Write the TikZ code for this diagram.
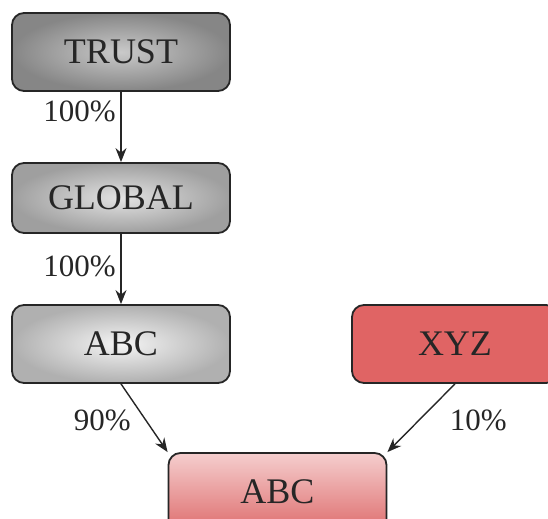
\documentclass[tikz,border=0pt]{standalone}
\usepackage{fontspec}
\setmainfont{Liberation Serif}
\usepackage{tikz}
\usetikzlibrary{arrows.meta}
\definecolor{xyzred}{RGB}{224,100,100}
\definecolor{pinktop}{RGB}{245,206,206}
\definecolor{pinkbot}{RGB}{222,110,110}
\tikzset{
	block/.style={draw=black!85, line width=0.9pt, rounded corners=6pt, minimum width=109pt,
		minimum height=39pt, text=black!85, font=\fontsize{18}{20}\selectfont},
	pct/.style={text=black!85, font=\fontsize{15.5}{17}\selectfont},
	link/.style={-{Stealth[length=7pt,width=5.5pt]}, line width=0.7pt, black!85}
}
\begin{document}
\begin{tikzpicture}[x=0.5pt, y=0.5pt]
			\useasboundingbox (0,0) rectangle (548,519);
			\clip (0,0) rectangle (548,519);
			\node[block, inner color=gray!42, outer color=gray!95] (trust) at (121,467) {TRUST};
			\node[block, minimum height=35pt, inner color=gray!22, outer color=gray!75] (global) at (121,321) {GLOBAL};
			\node[block, inner color=gray!8, outer color=gray!62] (abc) at (121,175) {ABC};
			\node[block, minimum width=103pt, fill=xyzred] (xyz) at (455,175) {XYZ};
			\node[block, top color=pinktop, bottom color=pinkbot] (res) at (277.5,27) {ABC};
			\path[link]
			(trust) edge node [pct, pos=0.28, left=-1pt] {100\%} (global)
			(global) edge node [pct, pos=0.46, left=-1pt] {100\%} (abc)
			(abc.south) edge node [pct, pos=0.54, left=4pt] {90\%} (res.north west)
			(xyz.south) edge node [pct, pos=0.54, right=12pt] {10\%} (res.north east);

		\end{tikzpicture}
\end{document}
